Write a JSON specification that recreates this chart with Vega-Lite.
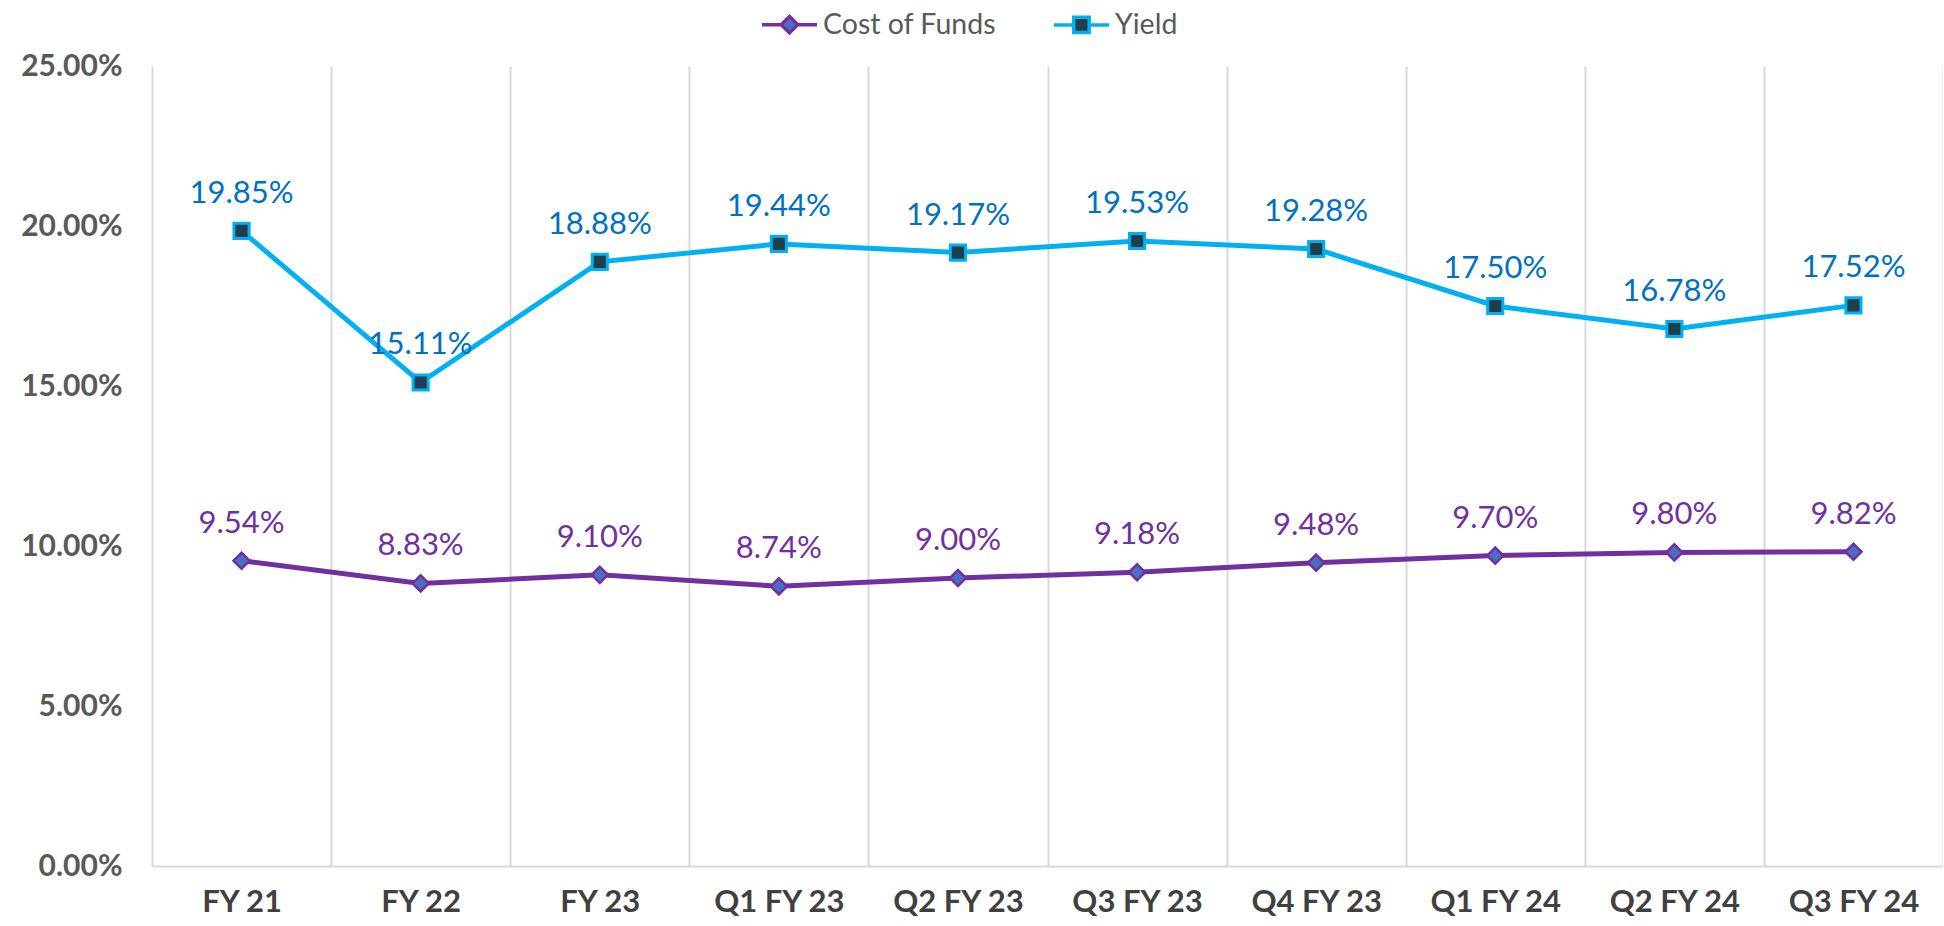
{
  "$schema": "https://vega.github.io/schema/vega-lite/v6.json",
  "width": 1791,
  "height": 800,
  "autosize": {"type": "none"},
  "padding": {"left": 152, "top": 66, "right": 0, "bottom": 60},
  "background": "white",
  "config": {"view": {"stroke": null}, "font": "Lato"},
  "data": {
    "values": [
      {"period": "FY 21", "series": "Cost of Funds", "value": 0.0954},
      {"period": "FY 22", "series": "Cost of Funds", "value": 0.0883},
      {"period": "FY 23", "series": "Cost of Funds", "value": 0.0910},
      {"period": "Q1 FY 23", "series": "Cost of Funds", "value": 0.0874},
      {"period": "Q2 FY 23", "series": "Cost of Funds", "value": 0.0900},
      {"period": "Q3 FY 23", "series": "Cost of Funds", "value": 0.0918},
      {"period": "Q4 FY 23", "series": "Cost of Funds", "value": 0.0948},
      {"period": "Q1 FY 24", "series": "Cost of Funds", "value": 0.0970},
      {"period": "Q2 FY 24", "series": "Cost of Funds", "value": 0.0980},
      {"period": "Q3 FY 24", "series": "Cost of Funds", "value": 0.0982},
      {"period": "FY 21", "series": "Yield", "value": 0.1985},
      {"period": "FY 22", "series": "Yield", "value": 0.1511},
      {"period": "FY 23", "series": "Yield", "value": 0.1888},
      {"period": "Q1 FY 23", "series": "Yield", "value": 0.1944},
      {"period": "Q2 FY 23", "series": "Yield", "value": 0.1917},
      {"period": "Q3 FY 23", "series": "Yield", "value": 0.1953},
      {"period": "Q4 FY 23", "series": "Yield", "value": 0.1928},
      {"period": "Q1 FY 24", "series": "Yield", "value": 0.1750},
      {"period": "Q2 FY 24", "series": "Yield", "value": 0.1678},
      {"period": "Q3 FY 24", "series": "Yield", "value": 0.1752}
    ]
  },
  "encoding": {
    "x": {
      "field": "period", "type": "nominal", "sort": null,
      "scale": {"type": "band", "paddingInner": 0, "paddingOuter": 0},
      "axis": {
        "title": null, "labelAngle": 0, "tickBand": "extent",
        "grid": true, "gridColor": "#D9D9D9", "gridWidth": 2,
        "domain": true, "domainColor": "#D9D9D9", "domainWidth": 2,
        "ticks": false, "labelFont": "Lato", "labelFontWeight": "bold",
        "labelFontSize": 31, "labelColor": "#404040", "labelPadding": 21
      }
    },
    "y": {
      "field": "value", "type": "quantitative",
      "scale": {"domain": [0, 0.25], "nice": false},
      "axis": {
        "title": null, "values": [0, 0.05, 0.1, 0.15, 0.2, 0.25], "format": ".2%",
        "grid": false, "domain": false, "ticks": false,
        "labelFont": "Lato", "labelFontWeight": "bold", "labelFontSize": 30,
        "labelColor": "#595959", "labelPadding": 30
      }
    }
  },
  "layer": [
    {
      "mark": {"type": "line", "strokeWidth": 5},
      "encoding": {
        "stroke": {
          "field": "series", "type": "nominal",
          "scale": {"domain": ["Cost of Funds", "Yield"], "range": ["#7030A0", "#00B0F0"]}
        }
      }
    },
    {
      "transform": [{"filter": "datum.series === 'Cost of Funds'"}],
      "mark": {"type": "point", "shape": "diamond", "filled": true, "opacity": 1, "size": 260, "strokeWidth": 2.5, "fill": "#4A6FC0", "stroke": "#7030A0"}
    },
    {
      "transform": [{"filter": "datum.series === 'Yield'"}],
      "mark": {"type": "point", "shape": "square", "filled": true, "opacity": 1, "size": 230, "strokeWidth": 3, "fill": "#1E3E4E", "stroke": "#00B0F0"}
    },
    {
      "transform": [{"filter": "datum.value < 0"}],
      "mark": {"type": "point", "filled": true, "opacity": 1, "size": 3025, "strokeWidth": 3.5},
      "encoding": {
        "shape": {
          "field": "series", "type": "nominal",
          "scale": {
            "domain": ["Cost of Funds", "Yield"],
            "range": ["M-1,0H-0.33M0.33,0H1M0,-0.3L0.3,0L0,0.3L-0.3,0Z", "M-1,0H-0.3M0.3,0H1M-0.28,-0.28H0.28V0.28H-0.28Z"]
          },
          "legend": {
            "title": null, "orient": "none", "direction": "horizontal",
            "legendX": 608, "legendY": -71, "padding": 0,
            "labelFont": "Lato", "labelFontSize": 28.5, "labelColor": "#595959", "labelLimit": 400,
            "symbolSize": 3025, "symbolStrokeWidth": 3.5, "labelOffset": 4, "columnPadding": 50
          }
        },
        "fill": {
          "field": "series", "type": "nominal",
          "scale": {"domain": ["Cost of Funds", "Yield"], "range": ["#4A6FC0", "#1E3E4E"]}
        },
        "stroke": {
          "field": "series", "type": "nominal",
          "scale": {"domain": ["Cost of Funds", "Yield"], "range": ["#7030A0", "#00B0F0"]}
        }
      }
    },
    {
      "transform": [{"filter": "datum.series === 'Yield'"}],
      "mark": {"type": "text", "font": "Lato", "fontSize": 31, "dy": -28, "baseline": "alphabetic", "color": "#0070C0"},
      "encoding": {"text": {"field": "value", "type": "quantitative", "format": ".2%"}}
    },
    {
      "transform": [{"filter": "datum.series === 'Cost of Funds'"}],
      "mark": {"type": "text", "font": "Lato", "fontSize": 31, "dy": -28, "baseline": "alphabetic", "color": "#7030A0"},
      "encoding": {"text": {"field": "value", "type": "quantitative", "format": ".2%"}}
    }
  ]
}
